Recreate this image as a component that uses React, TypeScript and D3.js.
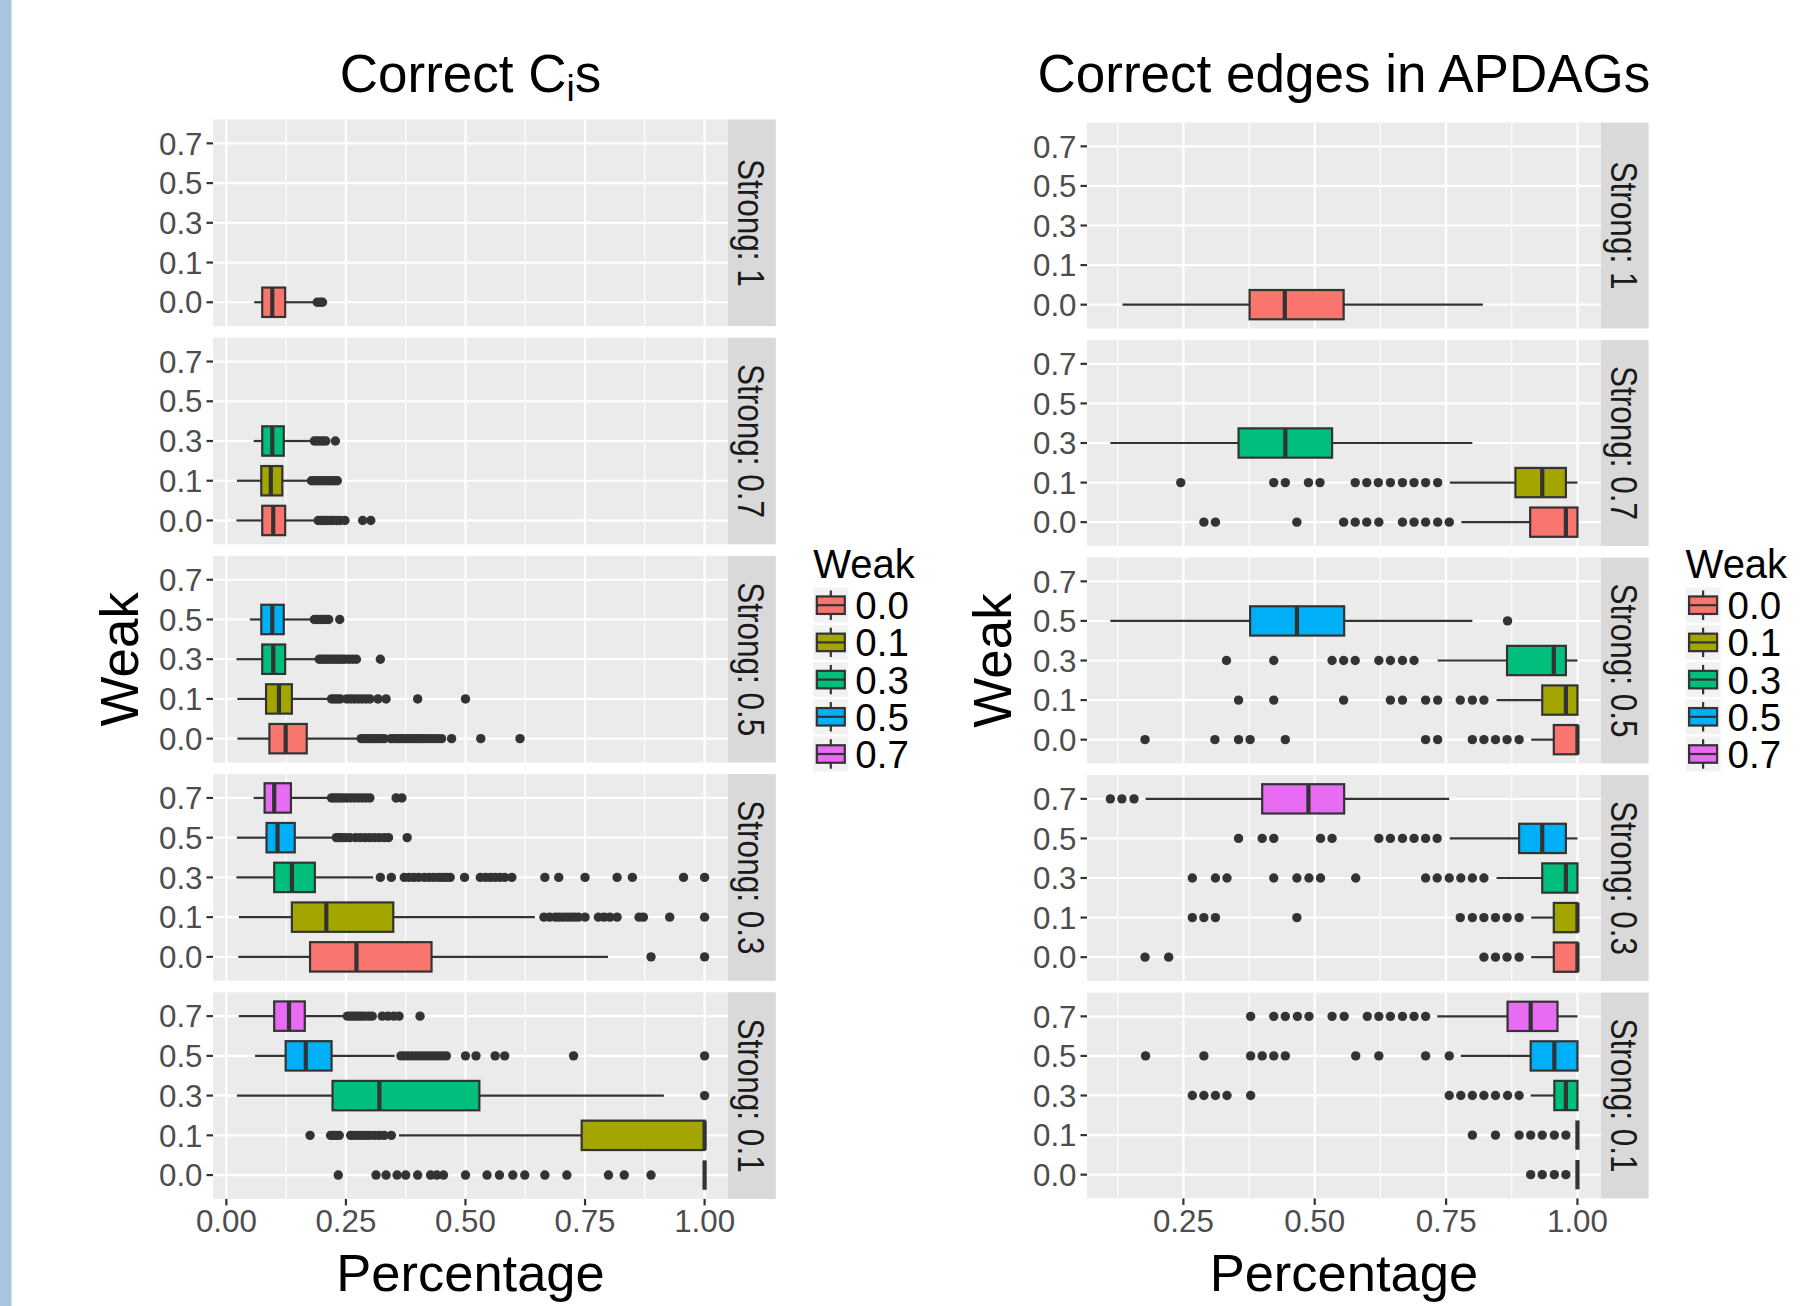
import React, { useEffect, useRef } from "react";
import * as d3 from "d3";

// Two faceted horizontal boxplot charts (ggplot look), drawn with d3.

const W = 1818;
const H = 1306;

const weakLevels = ["0.0", "0.1", "0.3", "0.5", "0.7"];
const weakColors = ["#F8766D", "#A3A500", "#00BF7D", "#00B0F6", "#E76BF3"];
const strongLevels = ["1", "0.7", "0.5", "0.3", "0.1"];

const ciTicks = [0, 0.25, 0.5, 0.75, 1];
const edgeTicks = [0.25, 0.5, 0.75, 1];

// [weak, lower whisker, q1, median, q3, upper whisker, outliers]
type Box = [string, number, number, number, number, number, number[]];

// ---- Correct C_i s ----
const ciStrong1: Box[] = [["0.0", 0.058, 0.075, 0.096, 0.123, 0.185, [0.19, 0.196, 0.201]]];
const ciStrong07: Box[] = [
  ["0.0", 0.021, 0.075, 0.098, 0.123, 0.187, [0.192, 0.198, 0.204, 0.21, 0.216, 0.222, 0.23, 0.238, 0.248, 0.285, 0.302]],
  ["0.1", 0.022, 0.073, 0.093, 0.117, 0.174, [0.178, 0.184, 0.19, 0.196, 0.202, 0.208, 0.214, 0.22, 0.226, 0.232]],
  ["0.3", 0.057, 0.075, 0.096, 0.12, 0.179, [0.184, 0.19, 0.196, 0.202, 0.208, 0.228]],
];
const ciStrong05: Box[] = [
  ["0.0", 0.023, 0.09, 0.124, 0.168, 0.276, [0.282, 0.288, 0.294, 0.3, 0.306, 0.312, 0.318, 0.324, 0.33, 0.344, 0.35, 0.356, 0.362, 0.368, 0.374, 0.38, 0.386, 0.392, 0.398, 0.404, 0.41, 0.418, 0.426, 0.434, 0.442, 0.45, 0.471, 0.532, 0.614]],
  ["0.1", 0.023, 0.083, 0.11, 0.137, 0.214, [0.22, 0.226, 0.232, 0.238, 0.252, 0.26, 0.268, 0.276, 0.284, 0.292, 0.3, 0.317, 0.334, 0.4, 0.5]],
  ["0.3", 0.021, 0.075, 0.098, 0.123, 0.189, [0.194, 0.2, 0.206, 0.212, 0.218, 0.224, 0.23, 0.236, 0.242, 0.248, 0.256, 0.264, 0.272, 0.322]],
  ["0.5", 0.049, 0.073, 0.096, 0.12, 0.179, [0.184, 0.19, 0.196, 0.202, 0.208, 0.214, 0.237]],
];
const ciStrong03: Box[] = [
  ["0.0", 0.025, 0.175, 0.272, 0.429, 0.798, [0.888, 1.0]],
  ["0.1", 0.026, 0.137, 0.209, 0.349, 0.645, [0.664, 0.676, 0.688, 0.696, 0.704, 0.712, 0.72, 0.728, 0.736, 0.75, 0.778, 0.79, 0.802, 0.817, 0.863, 0.872, 0.927, 1.0]],
  ["0.3", 0.021, 0.1, 0.137, 0.185, 0.307, [0.322, 0.345, 0.372, 0.382, 0.392, 0.402, 0.414, 0.424, 0.434, 0.444, 0.452, 0.46, 0.468, 0.498, 0.531, 0.542, 0.552, 0.562, 0.572, 0.582, 0.597, 0.666, 0.695, 0.75, 0.817, 0.849, 0.956, 1.0]],
  ["0.5", 0.022, 0.084, 0.107, 0.143, 0.222, [0.23, 0.236, 0.242, 0.25, 0.258, 0.27, 0.28, 0.29, 0.3, 0.31, 0.32, 0.33, 0.339, 0.378]],
  ["0.7", 0.057, 0.08, 0.1, 0.135, 0.214, [0.22, 0.226, 0.232, 0.238, 0.245, 0.252, 0.26, 0.268, 0.276, 0.284, 0.292, 0.3, 0.355, 0.367]],
];
const ciStrong01: Box[] = [
  ["0.0", 1, 1, 1, 1, 1, [0.234, 0.313, 0.334, 0.357, 0.375, 0.4, 0.427, 0.44, 0.454, 0.5, 0.545, 0.571, 0.599, 0.624, 0.666, 0.712, 0.799, 0.832, 0.888]],
  ["0.1", 0.361, 0.743, 1, 1, 1, [0.175, 0.218, 0.224, 0.23, 0.236, 0.26, 0.268, 0.276, 0.284, 0.292, 0.3, 0.31, 0.32, 0.33, 0.345]],
  ["0.3", 0.022, 0.222, 0.32, 0.529, 0.915, [1.0]],
  ["0.5", 0.06, 0.124, 0.166, 0.22, 0.352, [0.365, 0.372, 0.38, 0.388, 0.396, 0.404, 0.412, 0.42, 0.428, 0.436, 0.444, 0.452, 0.46, 0.5, 0.522, 0.562, 0.582, 0.726, 1.0]],
  ["0.7", 0.026, 0.1, 0.131, 0.164, 0.249, [0.253, 0.259, 0.265, 0.271, 0.277, 0.283, 0.29, 0.298, 0.305, 0.326, 0.338, 0.35, 0.361, 0.405]],
];

// ---- Correct edges in APDAGs ----
const edStrong1: Box[] = [["0.0", 0.134, 0.376, 0.443, 0.555, 0.82, []]];
const edStrong07: Box[] = [
  ["0.0", 0.779, 0.91, 0.978, 1, 1, [0.289, 0.311, 0.466, 0.555, 0.577, 0.599, 0.622, 0.667, 0.689, 0.711, 0.734, 0.756]],
  ["0.1", 0.757, 0.882, 0.933, 0.978, 1, [0.245, 0.422, 0.444, 0.488, 0.51, 0.577, 0.599, 0.621, 0.644, 0.667, 0.689, 0.711, 0.734]],
  ["0.3", 0.111, 0.355, 0.444, 0.533, 0.8, []],
];
const edStrong05: Box[] = [
  ["0.0", 0.912, 0.955, 1, 1, 1, [0.177, 0.31, 0.355, 0.377, 0.444, 0.711, 0.734, 0.8, 0.822, 0.844, 0.866, 0.889]],
  ["0.1", 0.846, 0.933, 0.978, 1, 1, [0.355, 0.422, 0.555, 0.644, 0.667, 0.711, 0.734, 0.777, 0.8, 0.822]],
  ["0.3", 0.734, 0.866, 0.955, 0.978, 1, [0.332, 0.422, 0.533, 0.555, 0.577, 0.622, 0.644, 0.667, 0.689]],
  ["0.5", 0.111, 0.377, 0.466, 0.556, 0.8, [0.867]],
];
const edStrong03: Box[] = [
  ["0.0", 0.912, 0.955, 1, 1, 1, [0.177, 0.222, 0.822, 0.844, 0.866, 0.889]],
  ["0.1", 0.912, 0.955, 1, 1, 1, [0.267, 0.289, 0.311, 0.466, 0.777, 0.8, 0.822, 0.844, 0.866, 0.889]],
  ["0.3", 0.846, 0.933, 0.978, 1, 1, [0.267, 0.311, 0.333, 0.422, 0.466, 0.489, 0.511, 0.578, 0.711, 0.733, 0.756, 0.778, 0.8, 0.822]],
  ["0.5", 0.757, 0.889, 0.933, 0.978, 1, [0.355, 0.4, 0.422, 0.511, 0.533, 0.622, 0.644, 0.667, 0.689, 0.711, 0.733]],
  ["0.7", 0.178, 0.4, 0.488, 0.556, 0.756, [0.111, 0.133, 0.156]],
];
const edStrong01: Box[] = [
  ["0.0", 1, 1, 1, 1, 1, [0.911, 0.933, 0.956, 0.978]],
  ["0.1", 1, 1, 1, 1, 1, [0.8, 0.844, 0.889, 0.911, 0.933, 0.956, 0.978]],
  ["0.3", 0.911, 0.956, 0.978, 1, 1, [0.267, 0.289, 0.311, 0.333, 0.378, 0.756, 0.778, 0.8, 0.822, 0.844, 0.867, 0.889]],
  ["0.5", 0.778, 0.911, 0.956, 1, 1, [0.178, 0.289, 0.378, 0.4, 0.422, 0.444, 0.578, 0.622, 0.711, 0.756]],
  ["0.7", 0.733, 0.867, 0.911, 0.962, 1, [0.378, 0.422, 0.444, 0.467, 0.489, 0.533, 0.556, 0.6, 0.622, 0.644, 0.667, 0.689, 0.711]],
];

const FONT = "'Liberation Sans', Arial, Helvetica, sans-serif";
const INK = "#333333";
const LW = 2.2;

const charts = [
  {
    title: [["Correct C", false], ["i", true], ["s", false]] as [string, boolean][],
    panels: [ciStrong1, ciStrong07, ciStrong05, ciStrong03, ciStrong01],
    ticks: ciTicks,
    left: 213, right: 728, top: 119.5, panelH: 206.6, gap: 11.6,
    yTitleX: 137.8, legendX: 813.3,
  },
  {
    title: [["Correct edges in APDAGs", false]] as [string, boolean][],
    panels: [edStrong1, edStrong07, edStrong05, edStrong03, edStrong01],
    ticks: edgeTicks,
    left: 1087, right: 1600.8, top: 122.6, panelH: 205.8, gap: 11.7,
    yTitleX: 1011, legendX: 1685.6,
  },
];

function drawChart(svg: any, c: (typeof charts)[number]) {
  const all = c.panels.flatMap((p) => p.flatMap((b) => [b[1], b[5], ...b[6]]));
  const [lo, hi] = d3.extent(all) as [number, number];
  const pad = (hi - lo) * 0.05;
  const x = d3.scaleLinear().domain([lo - pad, hi + pad]).range([c.left, c.right]);
  const [d0, d1] = x.domain();
  const step = c.ticks[1] - c.ticks[0];
  const minor = [c.ticks[0] - step / 2, ...c.ticks.map((t) => t + step / 2)].filter(
    (v) => v > d0 && v < d1
  );
  const color = d3.scaleOrdinal<string, string>(weakLevels, weakColors);
  const g = svg.append("g");
  const stripW = 47.8;

  c.panels.forEach((boxes, i) => {
    const top = c.top + i * (c.panelH + c.gap);
    const bottom = top + c.panelH;
    const y = d3.scalePoint<string>().domain(weakLevels).range([bottom, top]).padding(0.6);
    const half = y.step() * 0.37;
    const p = g.append("g");

    p.append("rect")
      .attr("x", c.left)
      .attr("y", top)
      .attr("width", c.right - c.left)
      .attr("height", c.panelH)
      .attr("fill", "#ebebeb");

    p.selectAll(".minor")
      .data(minor)
      .enter()
      .append("line")
      .attr("x1", (d: number) => x(d))
      .attr("x2", (d: number) => x(d))
      .attr("y1", top)
      .attr("y2", bottom)
      .attr("stroke", "white")
      .attr("stroke-width", 1.1);

    p.selectAll(".major")
      .data(c.ticks)
      .enter()
      .append("line")
      .attr("x1", (d: number) => x(d))
      .attr("x2", (d: number) => x(d))
      .attr("y1", top)
      .attr("y2", bottom)
      .attr("stroke", "white")
      .attr("stroke-width", 2.2);

    p.selectAll(".hgrid")
      .data(weakLevels)
      .enter()
      .append("line")
      .attr("x1", c.left)
      .attr("x2", c.right)
      .attr("y1", (d: string) => y(d)!)
      .attr("y2", (d: string) => y(d)!)
      .attr("stroke", "white")
      .attr("stroke-width", 2.2);

    boxes.forEach((b) => {
      const [w, lw, q1, med, q3, uw, out] = b;
      const cy = y(w)!;
      const bg = p.append("g");
      bg.selectAll("circle")
        .data(out)
        .enter()
        .append("circle")
        .attr("cx", (d: number) => x(d))
        .attr("cy", cy)
        .attr("r", 4.7)
        .attr("fill", INK);
      bg.append("line")
        .attr("x1", x(lw)).attr("x2", x(q1))
        .attr("y1", cy).attr("y2", cy)
        .attr("stroke", INK).attr("stroke-width", LW);
      bg.append("line")
        .attr("x1", x(q3)).attr("x2", x(uw))
        .attr("y1", cy).attr("y2", cy)
        .attr("stroke", INK).attr("stroke-width", LW);
      bg.append("rect")
        .attr("x", x(q1))
        .attr("y", cy - half)
        .attr("width", x(q3) - x(q1))
        .attr("height", 2 * half)
        .attr("fill", color(w))
        .attr("stroke", INK)
        .attr("stroke-width", LW);
      bg.append("line")
        .attr("x1", x(med)).attr("x2", x(med))
        .attr("y1", cy - half).attr("y2", cy + half)
        .attr("stroke", INK).attr("stroke-width", 4.2);
    });

    // facet strip
    p.append("rect")
      .attr("x", c.right)
      .attr("y", top)
      .attr("width", stripW)
      .attr("height", c.panelH)
      .attr("fill", "#d9d9d9");
    p.append("text")
      .attr("transform", `translate(${c.right + stripW / 2}, ${top + c.panelH / 2}) rotate(90) scale(0.84, 1)`)
      .attr("text-anchor", "middle")
      .attr("dy", 13.5)
      .attr("font-size", 37.5)
      .attr("fill", "#1a1a1a")
      .text(`Strong: ${strongLevels[i]}`);

    // y axis
    weakLevels.forEach((w) => {
      p.append("line")
        .attr("x1", c.left - 6.5).attr("x2", c.left)
        .attr("y1", y(w)!).attr("y2", y(w)!)
        .attr("stroke", INK).attr("stroke-width", LW);
      p.append("text")
        .attr("x", c.left - 10.5)
        .attr("y", y(w)! + 11.2)
        .attr("text-anchor", "end")
        .attr("font-size", 31.3)
        .attr("fill", "#4d4d4d")
        .text(w);
    });
  });

  const last = c.top + 5 * c.panelH + 4 * c.gap;
  const mid = (c.left + c.right) / 2;
  c.ticks.forEach((t) => {
    g.append("line")
      .attr("x1", x(t)).attr("x2", x(t))
      .attr("y1", last).attr("y2", last + 6.5)
      .attr("stroke", INK).attr("stroke-width", LW);
    g.append("text")
      .attr("x", x(t))
      .attr("y", 1231.5)
      .attr("text-anchor", "middle")
      .attr("font-size", 31.3)
      .attr("fill", "#4d4d4d")
      .text(d3.format(".2f")(t));
  });

  g.append("text")
    .attr("x", mid)
    .attr("y", 1290.5)
    .attr("text-anchor", "middle")
    .attr("font-size", 52.5)
    .attr("fill", "black")
    .text("Percentage");

  g.append("text")
    .attr("transform", `translate(${c.yTitleX}, ${c.top + (last - c.top) / 2}) rotate(-90)`)
    .attr("text-anchor", "middle")
    .attr("font-size", 53)
    .attr("fill", "black")
    .text("Weak");

  const title = g.append("text")
    .attr("x", mid)
    .attr("y", 91.5)
    .attr("text-anchor", "middle")
    .attr("font-size", 53)
    .attr("fill", "black");
  let shifted = false;
  c.title.forEach(([s, sub]) => {
    const ts = title.append("tspan").text(s);
    if (sub) {
      ts.attr("font-size", 37).attr("dy", 9);
      shifted = true;
    } else if (shifted) {
      ts.attr("dy", -9);
      shifted = false;
    }
  });

  // legend
  const lg = g.append("g");
  lg.append("text")
    .attr("x", c.legendX)
    .attr("y", 578.3)
    .attr("font-size", 40)
    .attr("fill", "black")
    .text("Weak");
  const k = 35;
  weakLevels.forEach((w, i) => {
    const ky = 587.7 + i * 37.2;
    const kx = c.legendX;
    lg.append("rect").attr("x", kx).attr("y", ky).attr("width", k).attr("height", k).attr("fill", "#f2f2f2");
    lg.append("line")
      .attr("x1", kx + k / 2).attr("x2", kx + k / 2)
      .attr("y1", ky + k * 0.08).attr("y2", ky + k * 0.92)
      .attr("stroke", INK).attr("stroke-width", LW);
    lg.append("rect")
      .attr("x", kx + k * 0.1)
      .attr("y", ky + k * 0.25)
      .attr("width", k * 0.8)
      .attr("height", k * 0.5)
      .attr("fill", color(w))
      .attr("stroke", INK)
      .attr("stroke-width", LW);
    lg.append("line")
      .attr("x1", kx + k * 0.1).attr("x2", kx + k * 0.9)
      .attr("y1", ky + k / 2).attr("y2", ky + k / 2)
      .attr("stroke", INK).attr("stroke-width", LW);
    lg.append("text")
      .attr("x", kx + 42)
      .attr("y", ky + k / 2 + 14)
      .attr("font-size", 38.5)
      .attr("fill", "black")
      .text(w);
  });
}

export default function App() {
  const ref = useRef<SVGSVGElement>(null);

  useEffect(() => {
    const svg = d3.select(ref.current);
    svg.selectAll("*").remove();
    svg.append("rect").attr("width", W).attr("height", H).attr("fill", "white");
    // light blue band on the left edge of the figure
    svg.append("rect").attr("x", 0).attr("y", 0).attr("width", 11.5).attr("height", H).attr("fill", "#a5c6dc");
    charts.forEach((c) => drawChart(svg, c));
  }, []);

  return (
    <div style={{ position: "absolute", left: 0, top: 0 }}>
      <svg ref={ref} width={W} height={H} style={{ display: "block", fontFamily: FONT }} />
    </div>
  );
}
